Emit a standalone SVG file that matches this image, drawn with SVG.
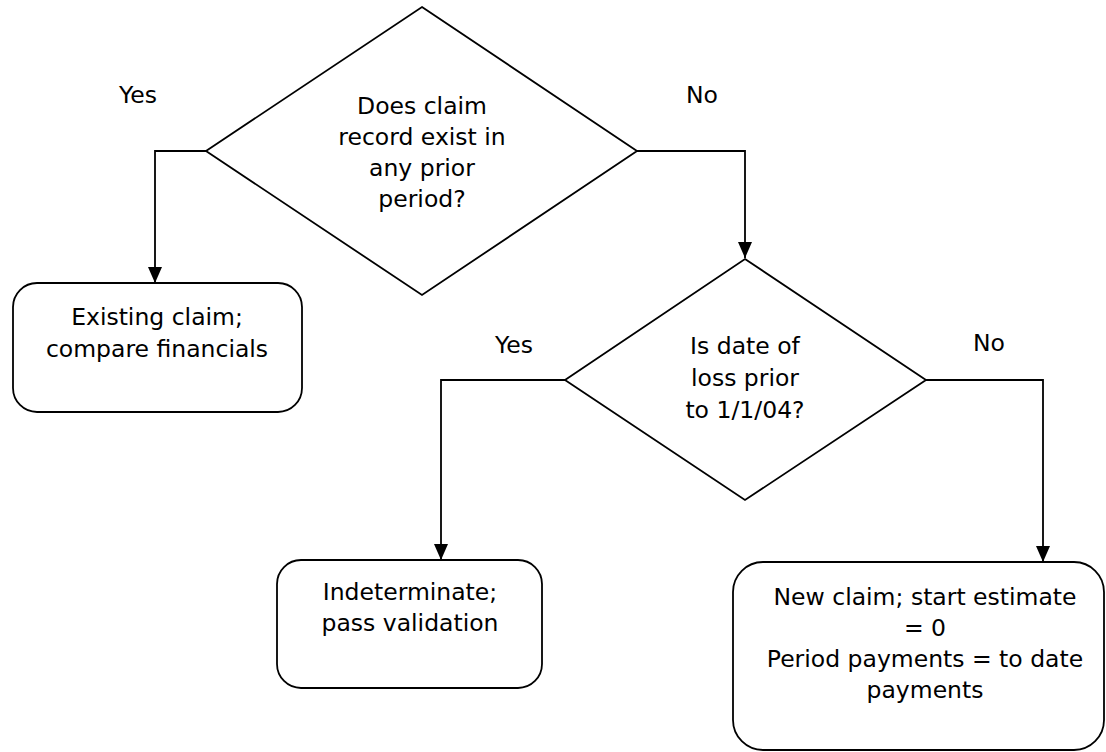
<svg xmlns="http://www.w3.org/2000/svg" width="1106" height="752" viewBox="0 0 1106 752">
<defs>
<marker id="arr" markerUnits="userSpaceOnUse" markerWidth="16" markerHeight="16" viewBox="0 0 16 16" refX="16" refY="8" orient="auto">
<path d="M0,1 L16,8 L0,15 Z" fill="#000"/>
</marker>
<style>
.shape{fill:#fff;stroke:#000;stroke-width:1.8}
.conn{fill:none;stroke:#000;stroke-width:1.8}
text{font-family:"DejaVu Sans",sans-serif;font-size:23.5px;fill:#000;text-anchor:middle}
</style>
</defs>
<rect width="1106" height="752" fill="#fff"/>
<g id="connectors">
<path class="conn" d="M206,151 H155 V283" marker-end="url(#arr)"/>
<path class="conn" d="M637,151 H745 V258" marker-end="url(#arr)"/>
<path class="conn" d="M565,380 H441 V560" marker-end="url(#arr)"/>
<path class="conn" d="M926,380 H1043 V562" marker-end="url(#arr)"/>
</g>
<g id="label-yes1"><text x="138" y="103">Yes</text></g>
<g id="label-no1"><text x="702" y="103">No</text></g>
<g id="label-yes2"><text x="514" y="353">Yes</text></g>
<g id="label-no2"><text x="989" y="351">No</text></g>
<g id="decision1">
<polygon class="shape" points="422,7 637,151 422,295 206,151"/>
<text x="422" y="114">Does claim</text>
<text x="422" y="145">record exist in</text>
<text x="422" y="176">any prior</text>
<text x="422" y="207">period?</text>
</g>
<g id="existing">
<rect class="shape" x="13" y="283" width="289" height="129" rx="24"/>
<text x="157" y="325">Existing claim;</text>
<text x="157" y="357">compare financials</text>
</g>
<g id="decision2">
<polygon class="shape" points="745,259 926,380 745,500 565,380"/>
<text x="745" y="354">Is date of</text>
<text x="745" y="386">loss prior</text>
<text x="745" y="418">to 1/1/04?</text>
</g>
<g id="indeterminate">
<rect class="shape" x="277" y="560" width="265" height="128" rx="24"/>
<text x="410" y="600">Indeterminate;</text>
<text x="410" y="631">pass validation</text>
</g>
<g id="newclaim">
<rect class="shape" x="733" y="562" width="371" height="188" rx="30"/>
<text x="925" y="605">New claim; start estimate</text>
<text x="925" y="636">= 0</text>
<text x="925" y="667">Period payments = to date</text>
<text x="925" y="698">payments</text>
</g>
</svg>
